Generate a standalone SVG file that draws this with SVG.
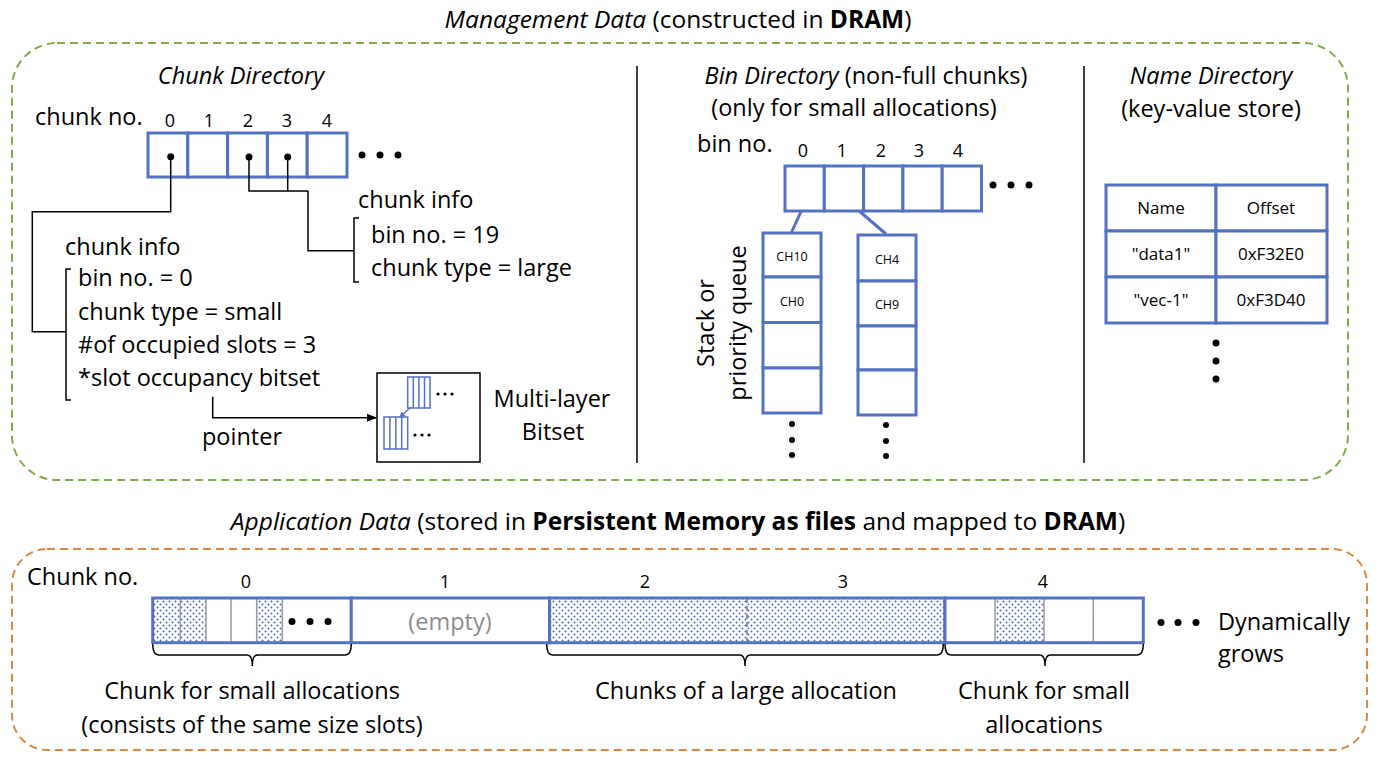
<svg xmlns="http://www.w3.org/2000/svg" width="1378" height="759" viewBox="0 0 1378 759">
<defs>
<style>
text{font-family:"Open Sans",Lato,"Liberation Sans",sans-serif;fill:#000}
.t22{font-size:23.5px}
.t24{font-size:24.5px}
.t17{font-size:18px}
.t16{font-size:17px}
.t12{font-size:12.5px}
.it{font-style:italic}
.b{font-weight:bold}
.mid{text-anchor:middle}
.cell{fill:#fff;stroke:#5472C4;stroke-width:3}
.blu{fill:none;stroke:#5472C4;stroke-width:3}
.thin{fill:#fff;stroke:#5472C4;stroke-width:1.5}
.ln{fill:none;stroke:#000;stroke-width:1.5}
.gray{stroke:#9a9a9a;stroke-width:1.5}
.dot{fill:#000}
</style>
<pattern id="dots" width="6" height="6" patternUnits="userSpaceOnUse">
<rect width="6" height="6" fill="#fff"/>
<circle cx="1.5" cy="1.5" r="1" fill="#4A68C0"/>
<circle cx="4.5" cy="4.5" r="1" fill="#4A68C0"/>
</pattern>
<marker id="arr" markerWidth="10" markerHeight="10" refX="9" refY="5" orient="auto" markerUnits="userSpaceOnUse">
<path d="M0,1 L10,5 L0,9 z" fill="#000"/>
</marker>
<marker id="arrb" markerWidth="6" markerHeight="6" refX="5" refY="3" orient="auto" markerUnits="userSpaceOnUse">
<path d="M0,0 L6,3 L0,6 z" fill="#5472C4"/>
</marker>
</defs>

<!-- Management data frame -->
<g id="management">
<text x="678" y="28" class="t24 mid"><tspan class="it">Management Data</tspan> (constructed in <tspan class="b">DRAM</tspan>)</text>
<rect x="12" y="43" width="1336" height="437" rx="45" ry="45" fill="none" stroke="#7DAE4A" stroke-width="2" stroke-dasharray="8,5"/>
<line x1="637" y1="66" x2="637" y2="463" stroke="#000" stroke-width="1.5"/>
<line x1="1084" y1="66" x2="1084" y2="463" stroke="#000" stroke-width="1.5"/>
</g>

<!-- Chunk Directory -->
<g id="chunk-directory">
<text x="241" y="84" class="t22 it mid">Chunk Directory</text>
<text x="35" y="125" class="t22">chunk no.</text>
<g class="t17 mid">
<text x="170" y="127">0</text><text x="209" y="127">1</text><text x="248" y="127">2</text><text x="287" y="127">3</text><text x="327" y="127">4</text>
</g>
<rect x="148" y="133" width="39.8" height="44" class="cell"/>
<rect x="187.8" y="133" width="39.8" height="44" class="cell"/>
<rect x="227.6" y="133" width="39.8" height="44" class="cell"/>
<rect x="267.4" y="133" width="39.8" height="44" class="cell"/>
<rect x="307.2" y="133" width="39.8" height="44" class="cell"/>
<circle cx="170.7" cy="156.7" r="3.5" class="dot"/>
<circle cx="249" cy="157" r="3.5" class="dot"/>
<circle cx="287.7" cy="157" r="3.5" class="dot"/>
<circle cx="362" cy="155" r="3.5" class="dot"/>
<circle cx="380" cy="155" r="3.5" class="dot"/>
<circle cx="398" cy="155" r="3.5" class="dot"/>
</g>

<g id="chunk-info-large">
<text x="358" y="208" class="t22">chunk info</text>
<text x="371" y="243" class="t22">bin no. = 19</text>
<text x="371" y="276" class="t22">chunk type = large</text>
<path d="M359,218 H354 V282 H359" class="ln"/>
</g>

<g id="chunk-info-small">
<text x="65" y="255" class="t22">chunk info</text>
<text x="78" y="286" class="t22">bin no. = 0</text>
<text x="78" y="320" class="t22">chunk type = small</text>
<text x="78" y="353" class="t22">#of occupied slots = 3</text>
<text x="78" y="386" class="t22">*slot occupancy bitset</text>
<path d="M71,269 H66 V400 H71" class="ln"/>
</g>

<g id="multilayer-bitset">
<rect x="377" y="373" width="103" height="89" fill="#fff" stroke="#000" stroke-width="1.5"/>
<g class="thin">
<rect x="407.7" y="377" width="22.3" height="31"/>
<line x1="413.3" y1="377" x2="413.3" y2="408"/><line x1="418.9" y1="377" x2="418.9" y2="408"/><line x1="424.5" y1="377" x2="424.5" y2="408"/>
<rect x="384" y="417" width="23.7" height="32"/>
<line x1="389.9" y1="417" x2="389.9" y2="449"/><line x1="395.8" y1="417" x2="395.8" y2="449"/><line x1="401.7" y1="417" x2="401.7" y2="449"/>
</g>
<line x1="411" y1="407" x2="400" y2="417" stroke="#5472C4" stroke-width="1.2" marker-end="url(#arrb)"/>
<circle cx="438" cy="394" r="1.6" class="dot"/><circle cx="445" cy="394" r="1.6" class="dot"/><circle cx="452" cy="394" r="1.6" class="dot"/>
<circle cx="415" cy="435" r="1.6" class="dot"/><circle cx="422" cy="435" r="1.6" class="dot"/><circle cx="429" cy="435" r="1.6" class="dot"/>
<text x="552" y="407" class="t22 mid">Multi-layer</text>
<text x="553" y="440" class="t22 mid">Bitset</text>
</g>

<!-- connectors -->
<g id="connectors">
<path d="M170.7,156.7 V211.7 H32.3 V331.7 H66" class="ln"/>
<path d="M249,157 V191 H308 M287.7,157 V191 M308,191 V250.7 H354" class="ln"/>
<path d="M212.7,396.7 V417.7 H376" class="ln" marker-end="url(#arr)"/>
<text x="242" y="445" class="t22 mid">pointer</text>
<line x1="809" y1="194" x2="791.7" y2="232" stroke="#5472C4" stroke-width="3"/>
<line x1="841.7" y1="196" x2="886" y2="234" stroke="#5472C4" stroke-width="3"/>
</g>

<!-- Bin Directory -->
<g id="bin-directory">
<text x="866" y="84" class="t22 mid"><tspan class="it">Bin Directory</tspan> (non-full chunks)</text>
<text x="854" y="116" class="t22 mid">(only for small allocations)</text>
<text x="697" y="152" class="t22">bin no.</text>
<g class="t17 mid">
<text x="803" y="157">0</text><text x="842" y="157">1</text><text x="881" y="157">2</text><text x="919" y="157">3</text><text x="958" y="157">4</text>
</g>
<rect x="785" y="166" width="39.3" height="45" class="cell"/>
<rect x="824.3" y="166" width="39.3" height="45" class="cell"/>
<rect x="863.6" y="166" width="39.3" height="45" class="cell"/>
<rect x="902.9" y="166" width="39.3" height="45" class="cell"/>
<rect x="942.2" y="166" width="39.3" height="45" class="cell"/>
<circle cx="993" cy="185" r="3.5" class="dot"/>
<circle cx="1011" cy="185" r="3.5" class="dot"/>
<circle cx="1029" cy="185" r="3.5" class="dot"/>
<text transform="translate(714,323) rotate(-90)" class="t22 mid">Stack or</text>
<text transform="translate(746,323) rotate(-90)" class="t22 mid">priority queue</text>
</g>

<g id="stack-bin0">
<rect x="763" y="233" width="58" height="44" class="cell"/>
<rect x="763" y="277" width="58" height="45.5" class="cell"/>
<rect x="763" y="322.5" width="58" height="45.5" class="cell"/>
<rect x="763" y="368" width="58" height="45" class="cell"/>
<text x="792" y="261" class="t12 mid">CH10</text>
<text x="792" y="306" class="t12 mid">CH0</text>
<circle cx="792" cy="424" r="3" class="dot"/><circle cx="792" cy="440" r="3" class="dot"/><circle cx="792" cy="455" r="3" class="dot"/>
</g>

<g id="stack-bin1">
<rect x="858" y="235" width="58" height="46" class="cell"/>
<rect x="858" y="281" width="58" height="45" class="cell"/>
<rect x="858" y="326" width="58" height="44" class="cell"/>
<rect x="858" y="370" width="58" height="45" class="cell"/>
<text x="887" y="264" class="t12 mid">CH4</text>
<text x="887" y="309" class="t12 mid">CH9</text>
<circle cx="886" cy="425" r="3" class="dot"/><circle cx="886" cy="441" r="3" class="dot"/><circle cx="886" cy="456" r="3" class="dot"/>
</g>

<!-- Name Directory -->
<g id="name-directory">
<text x="1211" y="84" class="t22 it mid">Name Directory</text>
<text x="1211" y="117" class="t22 mid">(key-value store)</text>
<rect x="1106" y="185" width="110" height="46" class="cell"/>
<rect x="1216" y="185" width="111" height="46" class="cell"/>
<rect x="1106" y="231" width="110" height="46" class="cell"/>
<rect x="1216" y="231" width="111" height="46" class="cell"/>
<rect x="1106" y="277" width="110" height="46" class="cell"/>
<rect x="1216" y="277" width="111" height="46" class="cell"/>
<text x="1161" y="214" class="t16 mid">Name</text>
<text x="1271" y="214" class="t16 mid">Offset</text>
<text x="1161" y="260" class="t16 mid">"data1"</text>
<text x="1271" y="260" class="t16 mid">0xF32E0</text>
<text x="1161" y="306" class="t16 mid">"vec-1"</text>
<text x="1271" y="306" class="t16 mid">0xF3D40</text>
<circle cx="1216" cy="343" r="3.5" class="dot"/><circle cx="1216" cy="361" r="3.5" class="dot"/><circle cx="1216" cy="379" r="3.5" class="dot"/>
</g>

<!-- Application data -->
<g id="application">
<text x="678" y="530" class="t24 mid"><tspan class="it">Application Data</tspan> (stored in <tspan class="b">Persistent Memory as files</tspan> and mapped to <tspan class="b">DRAM</tspan>)</text>
<rect x="12" y="549" width="1355" height="201" rx="35" ry="35" fill="none" stroke="#E0863F" stroke-width="2" stroke-dasharray="8,5"/>
<text x="27" y="585" class="t22">Chunk no.</text>
<g class="t17 mid">
<text x="246" y="588">0</text><text x="445" y="588">1</text><text x="645" y="588">2</text><text x="843" y="588">3</text><text x="1043" y="588">4</text>
</g>
</g>

<g id="chunk0">
<rect x="152.7" y="598" width="198.6" height="44.7" fill="#fff"/>
<rect x="152.7" y="598" width="27.6" height="44.7" fill="url(#dots)"/>
<rect x="180.3" y="598" width="25.7" height="44.7" fill="url(#dots)"/>
<rect x="256.7" y="598" width="25.6" height="44.7" fill="url(#dots)"/>
<g class="gray">
<line x1="180.3" y1="598" x2="180.3" y2="642.7"/><line x1="206" y1="598" x2="206" y2="642.7"/><line x1="231" y1="598" x2="231" y2="642.7"/><line x1="256.7" y1="598" x2="256.7" y2="642.7"/><line x1="282.3" y1="598" x2="282.3" y2="642.7"/>
</g>
<circle cx="292" cy="621.5" r="3.5" class="dot"/><circle cx="310" cy="621.5" r="3.5" class="dot"/><circle cx="328" cy="621.5" r="3.5" class="dot"/>
<rect x="152.7" y="598" width="198.6" height="44.7" class="blu"/>
</g>

<g id="chunk1">
<rect x="351.3" y="598" width="198.3" height="44.7" class="cell"/>
<text x="450" y="630" class="t22 mid" style="fill:#8c8c8c">(empty)</text>
</g>

<g id="chunk2-3">
<rect x="549.6" y="598" width="395.4" height="44.7" fill="url(#dots)"/>
<line x1="747" y1="598" x2="747" y2="642.7" stroke="#777" stroke-width="1.5" stroke-dasharray="5,3"/>
<rect x="549.6" y="598" width="395.4" height="44.7" class="blu"/>
</g>

<g id="chunk4">
<rect x="945" y="598" width="198.3" height="44.7" fill="#fff"/>
<rect x="995" y="598" width="49" height="44.7" fill="url(#dots)"/>
<g class="gray">
<line x1="995" y1="598" x2="995" y2="642.7"/><line x1="1044" y1="598" x2="1044" y2="642.7"/><line x1="1093.3" y1="598" x2="1093.3" y2="642.7"/>
</g>
<rect x="945" y="598" width="198.3" height="44.7" class="blu"/>
<circle cx="1161" cy="622.5" r="3.5" class="dot"/><circle cx="1178" cy="622.5" r="3.5" class="dot"/><circle cx="1196" cy="622.5" r="3.5" class="dot"/>
<text x="1218" y="630" class="t22">Dynamically</text>
<text x="1218" y="662" class="t22">grows</text>
</g>

<g id="braces">
<path d="M152.7,644 Q152.7,655 158.7,655 H247.3 Q252.3,655 252.3,666 Q252.3,655 257.3,655 H345.3 Q351.3,655 351.3,644" class="ln" stroke-width="1.3"/>
<path d="M546.7,644 Q546.7,655 552.7,655 H740 Q745,655 745,666 Q745,655 750,655 H937.3 Q943.3,655 943.3,644" class="ln" stroke-width="1.3"/>
<path d="M945,644 Q945,655 951,655 H1040 Q1045,655 1045,666 Q1045,655 1050,655 H1137.3 Q1143.3,655 1143.3,644" class="ln" stroke-width="1.3"/>
<text x="252" y="699" class="t22 mid">Chunk for small allocations</text>
<text x="252" y="733" class="t22 mid">(consists of the same size slots)</text>
<text x="746" y="699" class="t22 mid">Chunks of a large allocation</text>
<text x="1044" y="699" class="t22 mid">Chunk for small</text>
<text x="1044" y="733" class="t22 mid">allocations</text>
</g>
</svg>
